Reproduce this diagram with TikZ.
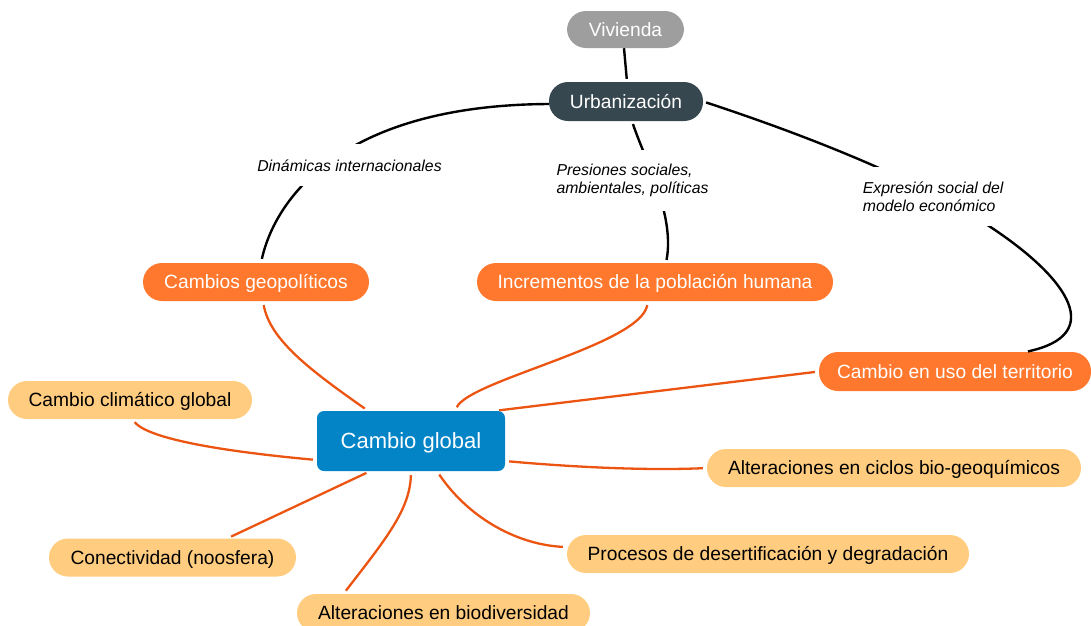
\documentclass[tikz,border=0pt]{standalone}
\usepackage{fontspec}
\setmainfont{Liberation Sans}
\definecolor{cgray}{HTML}{9E9E9E}
\definecolor{cslate}{HTML}{37474F}
\definecolor{corange}{RGB}{255,120,45}
\definecolor{cblue}{RGB}{2,132,199}
\definecolor{cpeach}{HTML}{FFCC80}
\definecolor{cline}{RGB}{236,84,18}
\begin{document}
\begin{tikzpicture}[x=1pt,y=-1pt,
  wd/.style={minimum width=#1},
  pill/.style={rectangle, rounded corners=19pt, minimum height=38pt, inner xsep=0pt,
    text height=13.7pt, text depth=0pt, font=\fontsize{19.2}{22}\selectfont},
  grayp/.style={pill, fill=cgray, text=white},
  slatep/.style={pill, fill=cslate, text=white},
  topic/.style={pill, fill=corange, text=white},
  factor/.style={pill, fill=cpeach, text=black},
  core/.style={rectangle, rounded corners=7pt, fill=cblue, text=white,
    minimum width=188pt, minimum height=60pt, inner xsep=0pt,
    text height=15.8pt, text depth=0pt, font=\fontsize{22}{26}\selectfont},
  note/.style={fill=white, inner xsep=4pt, align=left,
    font=\fontsize{15.8}{17.7}\selectfont\itshape},
  tie/.style={draw=black, line width=2.4pt},
  link/.style={draw=cline, line width=2.3pt, shorten <=4pt, shorten >=4pt},
]
\useasboundingbox (0,0) rectangle (1091,625);

% concept nodes
\node[grayp, wd=117pt, minimum height=37pt] (viv) at (625.5,29.5) {Vivienda};
\node[slatep, wd=154pt, minimum height=39pt] (urb) at (626,101.5) {Urbanización};
\node[topic, wd=226pt] (geo) at (256,282) {Cambios geopolíticos};
\node[topic, wd=356pt] (inc) at (655,282) {Incrementos de la población humana};
\node[topic, wd=272pt, minimum height=39pt] (ter) at (955,371.5) {Cambio en uso del territorio};
\node[core] (cg) at (411,441) {Cambio global};
\node[factor, wd=244pt] (cli) at (130,400) {Cambio climático global};
\node[factor, wd=374pt] (cic) at (894,468) {Alteraciones en ciclos bio-geoquímicos};
\node[factor, wd=247pt] (con) at (172.5,557.5) {Conectividad (noosfera)};
\node[factor, wd=402pt] (pro) at (768,554) {Procesos de desertificación y degradación};
\node[factor, wd=293pt] (bio) at (443.5,613) {Alteraciones en biodiversidad};

% urbanisation relations
\draw[tie, shorten >=3pt] ([xshift=-1.5pt]viv.south) -- ([xshift=1pt]urb.north);
\draw[tie, shorten >=4pt] ([yshift=-2.5pt]urb.west) .. controls (340,105) and (275,200) .. ([xshift=5pt]geo.north);
\draw[tie, shorten <=3pt, shorten >=3pt] ([xshift=6pt]urb.south) .. controls (645,160) and (675,215) .. ([xshift=11pt]inc.north);
\draw[tie, shorten <=3pt, shorten >=2pt] (urb.east) .. controls (790,130) and (914,176) .. (992,228)
  .. controls (1070,280) and (1105,335) .. ([xshift=71pt]ter.north);

% relation labels
\node[note, inner ysep=15pt] (dyn) at (349.5,165.3) {Dinámicas internacionales};
\node[note, inner ysep=14pt] (pre) at (632.5,180.7) {Presiones sociales,\\ambientales, políticas};
\node[note, inner ysep=15pt] (exp) at (933.2,196.5) {Expresión social del\\modelo económico};

% links to global change
\draw[link] ([xshift=7pt]geo.south) .. controls (270,340) and (310,370) .. ([xshift=-43pt]cg.north);
\draw[link] ([xshift=-7pt]inc.south) .. controls (640,345) and (470,380) .. ([xshift=44pt]cg.north);
\draw[link] (ter.west) -- ([xshift=-10pt]cg.north east);
\draw[link] ([xshift=2pt]cli.south) .. controls (150,440) and (230,452) .. ([yshift=-19pt]cg.west);
\draw[link] (cic.west) .. controls (640,471) and (560,466) .. ([yshift=-20pt]cg.east);
\draw[link] ([xshift=55pt]con.north) -- ([xshift=-41pt]cg.south);
\draw[link] ([xshift=-100pt]bio.north) .. controls (385,540) and (410,510) .. (cg.south);
\draw[link] ([xshift=26pt]cg.south) .. controls (470,520) and (520,545) .. ([yshift=7pt]pro.west);
\end{tikzpicture}
\end{document}
